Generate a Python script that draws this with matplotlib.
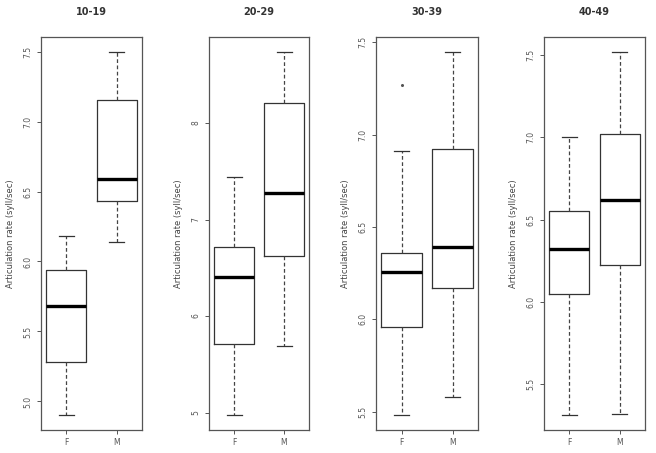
import matplotlib.pyplot as plt

# age groups and sex categories
groups = ["10-19", "20-29", "30-39", "40-49"]
sexes = ["F", "M"]

# five-number summaries (per group: F, M)
whislo = [[4.90, 6.14], [4.97, 5.69], [5.48, 5.58], [5.31, 5.32]]
q1 = [[5.28, 6.435], [5.71, 6.625], [5.96, 6.17], [6.05, 6.225]]
med = [[5.68, 6.59], [6.40, 7.27], [6.255, 6.39], [6.32, 6.62]]
q3 = [[5.94, 7.155], [6.71, 8.21], [6.36, 6.92], [6.55, 7.02]]
whishi = [[6.18, 7.50], [7.44, 8.74], [6.91, 7.45], [7.00, 7.52]]
fliers = [[[], []], [[], []], [[7.27], []], [[], []]]

# y tick values per panel
yticks = [
    [5.0, 5.5, 6.0, 6.5, 7.0, 7.5],
    [5, 6, 7, 8],
    [5.5, 6.0, 6.5, 7.0, 7.5],
    [5.5, 6.0, 6.5, 7.0, 7.5],
]
ytick_fmt = ["{:.1f}", "{:.0f}", "{:.1f}", "{:.1f}"]

ylabel = "Articulation rate (syll/sec)"
grey = "#555555"

fig = plt.figure(figsize=(6.56, 4.53), dpi=100)

lefts = [41, 209, 376, 544]
widths = [101, 100, 102, 101]
W, H = 656, 453

for i, g in enumerate(groups):
    ax = fig.add_axes([lefts[i] / W, 1 - 430 / H, widths[i] / W, (430 - 37) / H])
    stats = []
    for j, s in enumerate(sexes):
        stats.append(dict(whislo=whislo[i][j], q1=q1[i][j], med=med[i][j],
                          q3=q3[i][j], whishi=whishi[i][j], fliers=fliers[i][j],
                          label=s))
    ax.bxp(stats, positions=[1, 2], widths=0.8, capwidths=0.3,
           boxprops=dict(color="#333333", linewidth=0.9),
           medianprops=dict(color="black", linewidth=2.4, solid_capstyle="butt"),
           whiskerprops=dict(color="#444444", linewidth=0.9, linestyle=(0, (3, 2))),
           capprops=dict(color="#333333", linewidth=0.9),
           flierprops=dict(marker="o", markersize=1.2, markerfacecolor="#555555",
                           markeredgecolor="#555555"))

    # R style range: data range extended by 4%
    lo = min(whislo[i] + [v for f in fliers[i] for v in f])
    hi = max(whishi[i] + [v for f in fliers[i] for v in f])
    pad = (hi - lo) * 0.04
    ax.set_ylim(lo - pad, hi + pad)
    ax.set_xlim(0.5, 2.5)

    ax.set_yticks(yticks[i])
    ax.set_yticklabels([ytick_fmt[i].format(v) for v in yticks[i]],
                       rotation=90, va="center", fontsize=5.5, color=grey)
    ax.set_xticks([1, 2])
    ax.set_xticklabels(sexes, fontsize=5.5, color=grey)
    ax.tick_params(length=3, width=0.7, color=grey, pad=3)

    for sp in ax.spines.values():
        sp.set_color("#555555")
        sp.set_linewidth(0.9)

    ax.set_title(g, fontsize=7, fontweight="bold", color="#333333", pad=16)
    ax.set_ylabel(ylabel, fontsize=6, color="#444444", labelpad=6)

fig.savefig("out.png", dpi=100)
